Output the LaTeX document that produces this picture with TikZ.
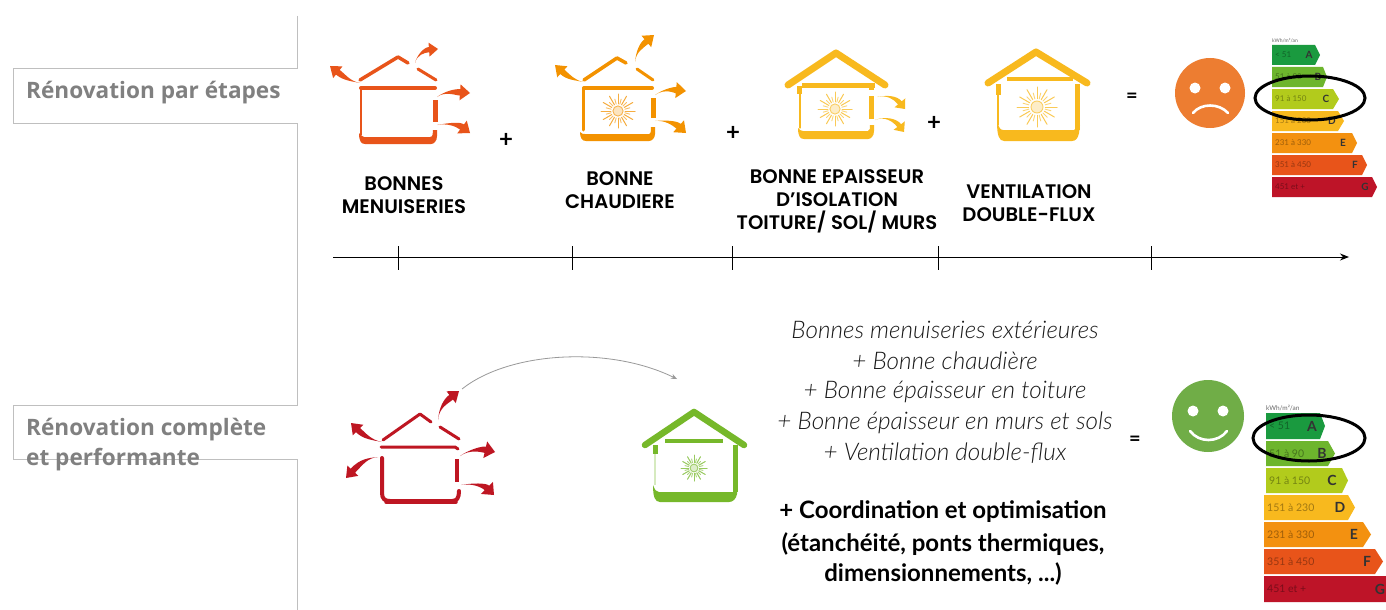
\documentclass[tikz,border=0pt]{standalone}
\usepackage{fontspec}
\setmainfont{Lato}
\newfontfamily\labfont{Open Sans}
\newfontfamily\stepfont{Poppins SemiBold}
\newfontfamily\lightfont{Lato Light}
\usetikzlibrary{arrows.meta,calc}
\definecolor{cRed}{HTML}{BE1622}
\definecolor{cOrR}{HTML}{E8541A}
\definecolor{cOr}{HTML}{F39200}
\definecolor{cYe}{HTML}{F8B91E}
\definecolor{cGr}{HTML}{76B82A}
\definecolor{cA}{HTML}{1A9A3F}
\definecolor{cB}{HTML}{6DB52D}
\definecolor{cC}{HTML}{B2CB1C}
\definecolor{cD}{HTML}{F8B91E}
\definecolor{cE}{HTML}{F39110}
\definecolor{cF}{HTML}{E8541A}
\definecolor{cG}{HTML}{BE1428}
\definecolor{frameC}{HTML}{BFBFBF}
\definecolor{faceO}{HTML}{ED7D31}
\definecolor{faceG}{HTML}{70AD47}
\tikzset{
 frameline/.style={draw=frameC,line width=1pt},
 wall/.style={line width=#1,line cap=round,line join=round},
 wall/.default=4pt,
 steplabel/.style={font=\stepfont\fontsize{19.6}{23}\selectfont,align=center,text=black},
 sumsign/.style={font=\bfseries\fontsize{24}{24}\selectfont,text=black},
 eqsign/.style={font=\bfseries\fontsize{20}{24}\selectfont,text=black},
 sidetitle/.style={font=\labfont\bfseries\fontsize{22.6}{30}\selectfont,text=black!50,anchor=base west},
 tick/.style={draw=black,line width=0.9pt},
 ring/.style={draw=black,line width=3pt},
 italline/.style={font=\lightfont\itshape\fontsize{24.3}{24}\selectfont,text=black!90},
 boldline/.style={font=\bfseries\fontsize{24}{24}\selectfont,text=black},
}
% tapered heat-loss arrow: start, c1, c2, tip, half-width, head length, head half-width
\newcommand{\heatarrow}[7]{%
 \coordinate (hT) at #4;
 \coordinate (hC) at #3;
 \coordinate (hB) at ($(hT)!#6pt!(hC)$);
 \fill (#1) .. controls #2 and ($(hC)!#5pt!-90:(hB)$) .. ($(hB)!#5pt!90:(hC)$) -- ($(hB)!#7pt!90:(hC)$) -- (hT) -- ($(hB)!#7pt!-90:(hC)$) -- ($(hB)!#5pt!-90:(hC)$) .. controls ($(hC)!#5pt!90:(hB)$) and #2 .. (#1) -- cycle;
}
% bar: name, y0,y1,body,tip,colour,range,letter,letterx
\newcommand{\ebar}[9]{%
 \fill[#6] (\barx,#2) -- (#4,#2) -- (#5,{(#2+#3)/2}) -- (#4,#3) -- (\barx,#3) -- cycle;
 \node[anchor=west,inner sep=0,font=\fontsize{\barfs}{\barfs}\selectfont,text=#6!65!black] (#1r) at (\barx+3,{(#2+#3)/2}) {#7};
 \node[inner sep=0,font=\bfseries\fontsize{\barls}{\barls}\selectfont,text=black!80] (#1l) at (#9,{(#2+#3)/2}) {#8};
}
% sun: x,y,r,colour
\newcommand{\sunburst}[4]{%
 \foreach \a in {0,30,...,330}{\draw[#4!75,line width=1pt,line cap=round] ($(#1,#2)+(\a:0.42*#3)$) -- ($(#1,#2)+(\a:#3)$);}
 \foreach \a in {15,45,...,345}{\draw[#4!60,line width=0.9pt,line cap=round] ($(#1,#2)+(\a:0.42*#3)$) -- ($(#1,#2)+(\a:0.72*#3)$);}
 \draw[#4!70,line width=0.9pt,fill=#4!25] (#1,#2) circle ({0.3*#3});
}
\begin{document}
\begin{tikzpicture}[x=1pt,y=-1pt]
\useasboundingbox (0,0) rectangle (1386,610);
\clip (0,0) rectangle (1386,610);
\fill[white] (0,0) rectangle (1386,610);

% side frames
\draw[frameline] (297,16) -- (297,69) -- (13,69) -- (13,123) -- (297,123) -- (297,405) -- (13,405) -- (13,459) -- (297,459) -- (297,610);
\node[sidetitle,inner sep=0] (t1) at (26,98) {Rénovation par étapes};
\node[sidetitle,inner sep=0] (t2) at (26,435) {Rénovation complète};
\node[sidetitle,inner sep=0] (t3) at (26,465) {et performante};

% house 1
\begin{scope}[cOrR]
\draw[wall=3.5pt] (360,80) -- (398,57) -- (408,63);
\draw[wall=3pt] (418,69) -- (436,80);
\draw[wall=4pt] (361,88) -- (435,88);
\draw[wall=1.3pt] (361,88) -- (361,135);
\fill (359,133) .. controls (361,135) and (362,137) .. (364,137) -- (430,137) .. controls (433,137) and (433,133) .. (433,130) -- (437,130) -- (437,136) .. controls (437,141) and (434,144) .. (431,144) -- (365,144) .. controls (361,144) and (359,141) .. (359,133) -- cycle;
\draw[wall=5pt,line cap=butt] (435,100) -- (435,122);
\heatarrow{360,83}{(350,81)}{(345,78)}{(330,66)}{3}{10}{7.5}
\heatarrow{415,63}{(417,55)}{(424,50)}{(438,49)}{2.6}{9}{7}
\heatarrow{437,97}{(445,91)}{(455,92)}{(470,93)}{3.2}{10}{8}
\heatarrow{437,125}{(448,123)}{(458,124)}{(470,133)}{3.2}{10}{8}
\end{scope}

% house 2
\begin{scope}[cOr]
\draw[wall=3.5pt] (584,80) -- (617,58) -- (626,63);
\draw[wall=3pt] (637,69) -- (653,80);
\draw[wall=4pt] (584,88) -- (652,88);
\draw[wall=3pt] (583,88) -- (583,130);
\fill (580,132) .. controls (582,134) and (583,134) .. (585,134) -- (649,134) .. controls (651,134) and (651,130) .. (651,127) -- (655,127) -- (655,134) .. controls (655,138) and (652,141) .. (649,141) -- (586,141) .. controls (582,141) and (580,138) .. (580,132) -- cycle;
\draw[wall=5pt,line cap=butt] (653,98) -- (653,118);
\heatarrow{583,82}{(575,80)}{(569,78)}{(555,65)}{3}{10}{7.5}
\heatarrow{635,62}{(636,52)}{(641,46)}{(654,35)}{3}{10}{7.5}
\heatarrow{655,95}{(665,88)}{(675,90)}{(686,91)}{3.2}{10}{8}
\heatarrow{655,121}{(665,120)}{(675,123)}{(686,133)}{3.2}{10}{8}
\end{scope}
\sunburst{618}{111}{17}{cOr}

% house 3
\begin{scope}[cYe]
\draw[wall=7pt] (788,85) -- (836,53) -- (885,85);
\draw[wall=5pt,line cap=butt] (802,85) -- (875,85);
\draw[wall=5pt,line cap=butt] (799,86) -- (799,94);
\draw[wall=1.3pt] (800,94) -- (800,128);
\fill (798,128) .. controls (800,130) and (801,131) .. (803,131) -- (868,131) .. controls (870,131) and (870,128) .. (870,125) -- (874,125) -- (874,131) .. controls (874,136) and (871,139) .. (868,139) -- (804,139) .. controls (800,139) and (798,136) .. (798,128) -- cycle;
\draw[wall=5pt,line cap=butt] (871,96) -- (871,119);
\draw[wall=5pt,line cap=butt] (871,84) -- (871,90);
\heatarrow{877,97}{(887,95)}{(895,97)}{(905,109)}{2.4}{8}{7}
\heatarrow{875,120}{(885,116)}{(895,120)}{(904,132)}{2.4}{8}{7}
\end{scope}
\sunburst{835}{109}{17}{cYe}

% house 4
\begin{scope}[cYe]
\draw[wall=7pt] (988,83) -- (1036,52) -- (1087,83);
\draw[wall=4pt,line cap=butt] (1007,79) -- (1073,79);
\draw[wall=5pt,line cap=butt] (998,84) -- (998,95);
\draw[wall=1.3pt] (998,95) -- (998,125);
\draw[wall=5pt,line cap=butt] (1077,84) -- (1077,130);
\fill (997,122) .. controls (999,127) and (1000,130) .. (1003,130) -- (1074,130) -- (1080,125) -- (1079,133) .. controls (1078,138) and (1076,141) .. (1072,141) -- (1004,141) .. controls (999,141) and (997,135) .. (997,122) -- cycle;
\end{scope}
\sunburst{1037}{107}{20}{cYe}

% plus / equals
\node[sumsign] (p1) at (506,140) {+};
\node[sumsign] (p2) at (733,133) {+};
\node[sumsign] (p3) at (934,123) {+};
\node[eqsign] (e1) at (1132,98) {=};
\node[eqsign] (e2) at (1135,441) {=};

% step labels
\node[steplabel] (l1) at (404,195) {BONNES\\MENUISERIES};
\node[steplabel] (l2) at (620,190) {BONNE\\CHAUDIERE};
\node[steplabel] (l3) at (837,201) {BONNE EPAISSEUR\\D’ISOLATION\\TOITURE/ SOL/ MURS};
\node[steplabel] (l4) at (1029,203) {VENTILATION\\DOUBLE-FLUX};

% timeline
\coordinate (a0) at (333,257);
\coordinate (a1) at (1349,257);
\draw[line width=1pt,-{Stealth[length=9pt,width=7pt]}] (a0) -- (a1);
\foreach \x in {398,572,732,938,1151}{\draw[tick] (\x,246) -- (\x,270);}

% faces
\fill[faceO] (1210,93) circle (35);
\fill[white] (1195,88) circle (5.5) (1225,88) circle (5.5);
\draw[white,line width=2.6pt,line cap=round] (1193,113) .. controls (1201,103) and (1219,103) .. (1228,113);
\fill[faceG] (1208,416) circle (36);
\fill[white] (1193,411) circle (5.5) (1223,411) circle (5.5);
\draw[white,line width=2.6pt,line cap=round] (1190,431) .. controls (1199,443) and (1218,443) .. (1227,431);

% chart 1
\def\barx{1272}\def\barfs{8}\def\barls{10}
\node[anchor=west,inner sep=0,font=\fontsize{5}{5}\selectfont,text=black!60] (k1) at (1272,41) {kWh/m²/an};
\ebar{ua}{45}{65}{1315}{1320}{cA}{< 51}{A}{1309}
\ebar{ub}{67}{87}{1323}{1327}{cB}{51 à 90}{B}{1318}
\ebar{uc}{89}{109}{1333}{1339}{cC}{91 à 150}{C}{1326}
\ebar{ud}{111}{131}{1338}{1344}{cD}{151 à 230}{D}{1332}
\ebar{ue}{133}{153}{1352}{1357}{cE}{231 à 330}{E}{1343}
\ebar{uf}{155}{175}{1362}{1367}{cF}{351 à 450}{F}{1355}
\ebar{ug}{177}{197}{1372}{1377}{cG}{451 et +}{G}{1365}
\draw[ring] (1310,98) ellipse (55 and 22);

% red house
\begin{scope}[cRed]
\draw[wall=3pt] (383,440) -- (420,414) -- (431,422);
\draw[wall=3pt] (440,427) -- (459,439);
\draw[wall=3pt] (381,447) -- (455,447) -- (458,449);
\draw[wall=4pt] (382,458) -- (382,493) .. controls (382,499) and (385,501) .. (390,501) -- (452,501) .. controls (457,501) and (459,498) .. (459,491);
\draw[wall=3.5pt] (386,502) -- (456,502);
\draw[wall=4.5pt,line cap=butt] (457,459) -- (457,482);
\heatarrow{382,442}{(372,440)}{(365,437)}{(351,423)}{3}{10}{7.5}
\heatarrow{438,420}{(439,408)}{(445,402)}{(459,391)}{3}{10}{7.5}
\heatarrow{378,457}{(368,458)}{(362,461)}{(346,478)}{3}{10}{7.5}
\heatarrow{460,456}{(470,449)}{(482,449)}{(495,452)}{3.2}{10}{8.5}
\heatarrow{461,485}{(472,483)}{(484,485)}{(494,495)}{3.2}{10}{8.5}
\end{scope}

% green house
\begin{scope}[cGr]
\draw[wall=6.5pt] (645,445) -- (694,412) -- (744,445);
\draw[wall=3.5pt,line cap=butt] (665,441) -- (723,441);
\draw[wall=5pt,line cap=butt] (655,445) -- (655,454);
\draw[cGr!30,line width=1.5pt] (655,454) -- (655,485);
\draw[wall=5pt,line cap=butt] (735,445) -- (735,492);
\fill (653,485) .. controls (655,490) and (656,492) .. (659,492) -- (737,492) -- (737,494) .. controls (736,499) and (733,502) .. (729,502) -- (660,502) .. controls (655,502) and (653,497) .. (653,485) -- cycle;
\end{scope}
\sunburst{694}{468}{13}{cGr}

% transition arc
\coordinate (c0) at (462,389);
\coordinate (c1) at (677,379);
\draw[black!40,line width=0.8pt,-{Stealth[length=6pt,width=5pt]}] (c0) .. controls (510,351) and (610,346) .. (c1);

% centre text
\node[italline] (i1) at (945,330) {Bonnes menuiseries extérieures};
\node[italline] (i2) at (945,361) {+ Bonne chaudière};
\node[italline] (i3) at (945,392) {+ Bonne épaisseur en toiture};
\node[italline] (i4) at (945,423) {+ Bonne épaisseur en murs et sols};
\node[italline] (i5) at (945,453) {+ Ventilation double-flux};
\node[boldline] (b1) at (943,512) {+ Coordination et optimisation};
\node[boldline] (b2) at (943,544) {(étanchéité, ponts thermiques,};
\node[boldline] (b3) at (943,574) {dimensionnements, ...)};

% chart 2
\def\barx{1266}\def\barfs{10.5}\def\barls{14}
\node[anchor=west,inner sep=0,font=\fontsize{6.5}{6.5}\selectfont,text=black!60] (k2) at (1266,408) {kWh/m²/an};
\ebar{va}{413}{439}{1320}{1325}{cA}{< 51}{A}{1312}
\ebar{vb}{441}{466}{1328}{1335}{cB}{51 à 90}{B}{1322}
\ebar{vc}{468}{493}{1342}{1348}{cC}{91 à 150}{C}{1332}
\def\barx{1264}
\ebar{vd}{495}{520}{1348}{1355}{cD}{151 à 230}{D}{1340}
\ebar{ve}{522}{547}{1363}{1371}{cE}{231 à 330}{E}{1354}
\ebar{vf}{549}{574}{1375}{1383}{cF}{351 à 450}{F}{1367}
\ebar{vg}{576}{602}{1386}{1392}{cG}{451 et +}{G}{1380}
\draw[ring] (1309,438) ellipse (56 and 23);
\end{tikzpicture}
\end{document}
